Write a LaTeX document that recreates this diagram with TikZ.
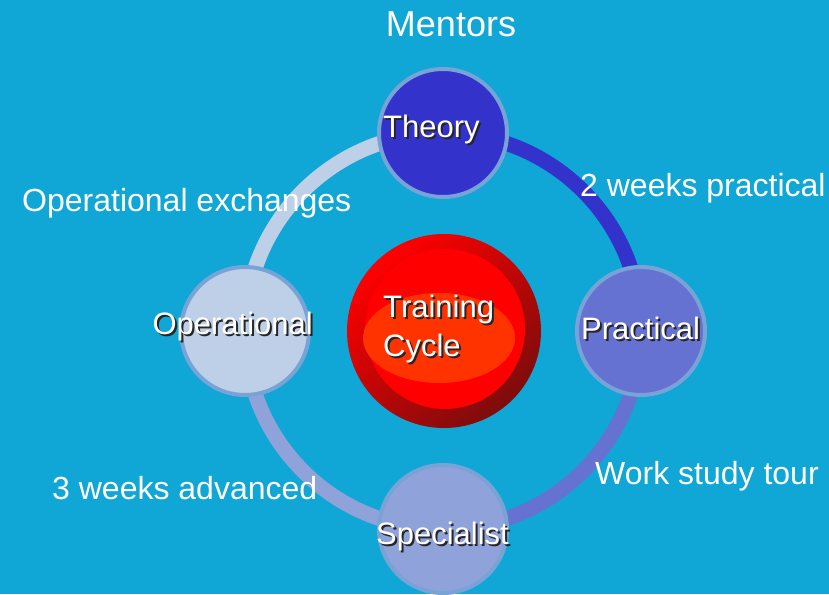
\documentclass[tikz,border=0pt]{standalone}
\usepackage{fontspec}
\setmainfont{Liberation Sans}
\definecolor{bg}{RGB}{16,166,214}
\definecolor{cTheory}{RGB}{51,51,204}
\definecolor{cPract}{RGB}{102,114,210}
\definecolor{cSpec}{RGB}{143,162,218}
\definecolor{cOper}{RGB}{190,207,232}
\definecolor{cRim}{RGB}{120,163,214}
\definecolor{cDark}{RGB}{125,12,12}
\definecolor{cOrange}{RGB}{255,51,0}
\tikzset{
  ringarc/.style={line width=15pt},
  stage/.style={circle, draw=cRim, line width=4pt, minimum size=128pt, inner sep=0pt},
  lbl/.style={text=white, inner sep=0pt, font=\fontsize{32}{38}\selectfont},
  nlbl/.style={text=white, inner sep=0pt, font=\fontsize{31}{38}\selectfont},
}
\newcommand{\shadowed}[1]{\makebox[0pt][l]{\kern2pt\raisebox{-2pt}{\color{black!85}#1}}#1}
\begin{document}
\begin{tikzpicture}[x=1pt,y=1pt]
\useasboundingbox (0,0) rectangle (829,594);
\clip (0,0) rectangle (829,594);
\fill[bg] (0,0) rectangle (829,594);
% ring centre and stage positions
\coordinate (ctr) at (443,263);
\coordinate (pT) at (443,461);
\coordinate (pP) at (641,263);
\coordinate (pS) at (443,65);
\coordinate (pO) at (245,263);
% arcs
\draw[ringarc, cTheory] (pT) arc[start angle=90, end angle=0, radius=198];
\draw[ringarc, cPract] (pP) arc[start angle=0, end angle=-90, radius=198];
\draw[ringarc, cSpec] (pS) arc[start angle=270, end angle=180, radius=198];
\draw[ringarc, cOper] (pO) arc[start angle=180, end angle=90, radius=198];
% stage circles
\node[stage, fill=cTheory] (theory) at (pT) {};
\node[stage, fill=cPract] (practical) at (pP) {};
\node[stage, fill=cSpec] (specialist) at (pS) {};
\node[stage, fill=cOper] (operational) at (pO) {};
% central ball
\shade[top color=red, bottom color=cDark, shading angle=40] (444,263) circle[radius=97];
\fill[red] (445,265) circle[radius=80];
\fill[cOrange] (439,256) ellipse[x radius=76, y radius=45];
% labels with shadow
\node[nlbl, anchor=base west] (tTheory) at (383,456) {\shadowed{Theory}};
\node[nlbl, anchor=base west] (tPract) at (581,254) {\shadowed{Practical}};
\node[nlbl, anchor=base east] (tOper) at (313,259) {\shadowed{Operational}};
\node[nlbl, anchor=base west] (tSpec) at (376,49) {\shadowed{Specialist}};
\node[nlbl, anchor=base west] (tTrain) at (383,276) {\shadowed{Training}};
\node[nlbl, anchor=base west] (tCycle) at (383,237) {\shadowed{Cycle}};
% plain labels
\node[lbl, anchor=base, font=\fontsize{36}{40}\selectfont] (mentors) at (451,557) {Mentors};
\node[lbl, anchor=base west] (l1) at (580,397) {2 weeks practical};
\node[lbl, anchor=base west] (l2) at (22,382) {Operational exchanges};
\node[lbl, anchor=base west] (l3) at (52,94) {3 weeks advanced};
\node[lbl, anchor=base west] (l4) at (595,109) {Work study tour};
\end{tikzpicture}
\end{document}
